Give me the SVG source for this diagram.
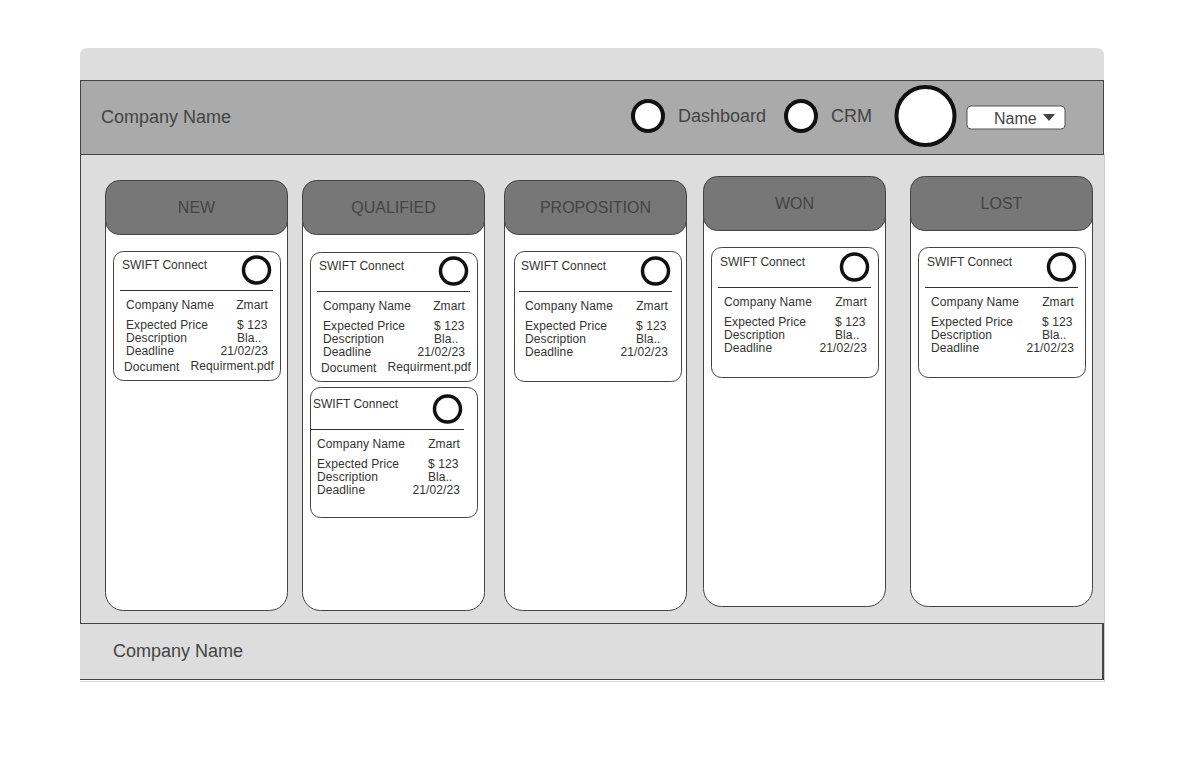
<svg xmlns="http://www.w3.org/2000/svg" width="1184" height="760" viewBox="0 0 1184 760">
<style>
text{font-family:"Liberation Sans",Arial,sans-serif;fill:#3a3a3a}
.hdr{font-size:18px;fill:#444}
.lane-body{fill:#fff;stroke:#444;stroke-width:1}
.lane-head{fill:#777;stroke:#444;stroke-width:1}
.lane-title{font-size:16px;fill:#444;text-anchor:middle}
.card{fill:#fff;stroke:#444;stroke-width:1}
.ctitle{font-size:12px;fill:#333}
.f{font-size:12px;fill:#333;letter-spacing:0.1px}
.r{text-anchor:end}
.dot{fill:#fff;stroke:#111;stroke-width:3.5}
.nav{fill:#fff;stroke:#111;stroke-width:4}
.sep{stroke:#333;stroke-width:1}
</style>
<rect width="1184" height="760" fill="#fff"/>
<g id="frame">
<path d="M80,80 V56 Q80,48 88,48 H1096 Q1104,48 1104,56 V80 Z" fill="#ddd"/>
<rect x="80" y="80" width="1024" height="600" fill="#ddd"/>
<line x1="1104.5" y1="154" x2="1104.5" y2="682" stroke="#ccc"/>
<line x1="80" y1="681.5" x2="1105" y2="681.5" stroke="#ddd"/>
<line x1="80.5" y1="154" x2="80.5" y2="623" stroke="#444"/>
</g>
<g id="header">
<rect x="80.5" y="80.5" width="1023" height="74" fill="#aaa" stroke="#444"/>
<text class="hdr" x="101" y="123">Company Name</text>
<circle class="nav" cx="648" cy="116" r="15"/>
<text class="hdr" x="678" y="122">Dashboard</text>
<circle class="nav" cx="801" cy="116" r="15"/>
<text class="hdr" x="831" y="122">CRM</text>
<circle class="nav" cx="925.5" cy="116" r="29"/>
<rect x="967" y="106" width="98" height="23" rx="4" fill="#fff" stroke="#555"/>
<text x="994" y="124" style="font-size:16px;fill:#444">Name</text>
<path d="M1043,114 H1055 L1049,121 Z" fill="#444"/>
</g>
<g id="footer">
<rect x="80" y="623" width="1023" height="57" fill="#ddd"/>
<path d="M80,623.5 H1102.5 V679.5 H80" fill="none" stroke="#444"/>
<line x1="1103" y1="623" x2="1103" y2="680" stroke="#444" stroke-width="2"/>
<text class="hdr" x="113" y="657">Company Name</text>
</g>

<g id="lane-new">
<rect class="lane-body" x="105.5" y="190.5" width="182" height="420" rx="18"/>
<rect class="lane-head" x="105.5" y="180.5" width="182" height="54" rx="14"/>
<text class="lane-title" x="196.5" y="213">NEW</text>
</g>
<g id="lane-qualified">
<rect class="lane-body" x="302.5" y="190.5" width="182" height="420" rx="18"/>
<rect class="lane-head" x="302.5" y="180.5" width="182" height="54" rx="14"/>
<text class="lane-title" x="393.5" y="213">QUALIFIED</text>
</g>
<g id="lane-proposition">
<rect class="lane-body" x="504.5" y="190.5" width="182" height="420" rx="18"/>
<rect class="lane-head" x="504.5" y="180.5" width="182" height="54" rx="14"/>
<text class="lane-title" x="595.5" y="213">PROPOSITION</text>
</g>
<g id="lane-won">
<rect class="lane-body" x="703.5" y="186.5" width="182" height="420" rx="18"/>
<rect class="lane-head" x="703.5" y="176.5" width="182" height="54" rx="14"/>
<text class="lane-title" x="794.5" y="209">WON</text>
</g>
<g id="lane-lost">
<rect class="lane-body" x="910.5" y="186.5" width="182" height="420" rx="18"/>
<rect class="lane-head" x="910.5" y="176.5" width="182" height="54" rx="14"/>
<text class="lane-title" x="1001.5" y="209">LOST</text>
</g>

<g id="card-new-1">
<rect class="card" x="113.5" y="251.5" width="167" height="129" rx="10"/>
<text class="ctitle" x="122" y="269">SWIFT Connect</text>
<circle class="dot" cx="256.5" cy="270" r="13"/>
<line class="sep" x1="120" y1="290.5" x2="273" y2="290.5"/>
<text class="f" x="126" y="309">Company Name</text>
<text class="f r" x="268" y="309">Zmart</text>
<text class="f" x="126" y="329">Expected Price</text>
<text class="f" x="237" y="329">$ 123</text>
<text class="f" x="126" y="342">Description</text>
<text class="f" x="237" y="342">Bla..</text>
<text class="f" x="126" y="355">Deadline</text>
<text class="f r" x="268" y="355">21/02/23</text>
<text class="f" x="124" y="371">Document</text>
<text class="f r" x="274" y="370">Requirment.pdf</text>
</g>
<g id="card-qualified-1" transform="translate(197,1)">
<rect class="card" x="113.5" y="251.5" width="167" height="129" rx="10"/>
<text class="ctitle" x="122" y="269">SWIFT Connect</text>
<circle class="dot" cx="256.5" cy="270" r="13"/>
<line class="sep" x1="120" y1="290.5" x2="273" y2="290.5"/>
<text class="f" x="126" y="309">Company Name</text>
<text class="f r" x="268" y="309">Zmart</text>
<text class="f" x="126" y="329">Expected Price</text>
<text class="f" x="237" y="329">$ 123</text>
<text class="f" x="126" y="342">Description</text>
<text class="f" x="237" y="342">Bla..</text>
<text class="f" x="126" y="355">Deadline</text>
<text class="f r" x="268" y="355">21/02/23</text>
<text class="f" x="124" y="371">Document</text>
<text class="f r" x="274" y="370">Requirment.pdf</text>
</g>
<g id="card-qualified-2">
<rect class="card" x="310.5" y="387.5" width="167" height="130" rx="10"/>
<text class="ctitle" x="313" y="408">SWIFT Connect</text>
<circle class="dot" cx="447.5" cy="409" r="13"/>
<line class="sep" x1="311" y1="429.5" x2="464" y2="429.5"/>
<text class="f" x="317" y="448">Company Name</text>
<text class="f r" x="460" y="448">Zmart</text>
<text class="f" x="317" y="468">Expected Price</text>
<text class="f" x="428" y="468">$ 123</text>
<text class="f" x="317" y="481">Description</text>
<text class="f" x="428" y="481">Bla..</text>
<text class="f" x="317" y="494">Deadline</text>
<text class="f r" x="460" y="494">21/02/23</text>
</g>
<g id="card-proposition-1">
<rect class="card" x="514.5" y="251.5" width="167" height="130" rx="10"/>
<text class="ctitle" x="521" y="270">SWIFT Connect</text>
<circle class="dot" cx="655.5" cy="271" r="13"/>
<line class="sep" x1="519" y1="291.5" x2="672" y2="291.5"/>
<text class="f" x="525" y="310">Company Name</text>
<text class="f r" x="668" y="310">Zmart</text>
<text class="f" x="525" y="330">Expected Price</text>
<text class="f" x="636" y="330">$ 123</text>
<text class="f" x="525" y="343">Description</text>
<text class="f" x="636" y="343">Bla..</text>
<text class="f" x="525" y="356">Deadline</text>
<text class="f r" x="668" y="356">21/02/23</text>
</g>
<g id="card-won-1">
<rect class="card" x="711.5" y="247.5" width="167" height="130" rx="10"/>
<text class="ctitle" x="720" y="266">SWIFT Connect</text>
<circle class="dot" cx="854.5" cy="267" r="13"/>
<line class="sep" x1="718" y1="287.5" x2="871" y2="287.5"/>
<text class="f" x="724" y="306">Company Name</text>
<text class="f r" x="867" y="306">Zmart</text>
<text class="f" x="724" y="326">Expected Price</text>
<text class="f" x="835" y="326">$ 123</text>
<text class="f" x="724" y="339">Description</text>
<text class="f" x="835" y="339">Bla..</text>
<text class="f" x="724" y="352">Deadline</text>
<text class="f r" x="867" y="352">21/02/23</text>
</g>
<g id="card-lost-1">
<rect class="card" x="918.5" y="247.5" width="167" height="130" rx="10"/>
<text class="ctitle" x="927" y="266">SWIFT Connect</text>
<circle class="dot" cx="1061.5" cy="267" r="13"/>
<line class="sep" x1="925" y1="287.5" x2="1078" y2="287.5"/>
<text class="f" x="931" y="306">Company Name</text>
<text class="f r" x="1074" y="306">Zmart</text>
<text class="f" x="931" y="326">Expected Price</text>
<text class="f" x="1042" y="326">$ 123</text>
<text class="f" x="931" y="339">Description</text>
<text class="f" x="1042" y="339">Bla..</text>
<text class="f" x="931" y="352">Deadline</text>
<text class="f r" x="1074" y="352">21/02/23</text>
</g>
</svg>
